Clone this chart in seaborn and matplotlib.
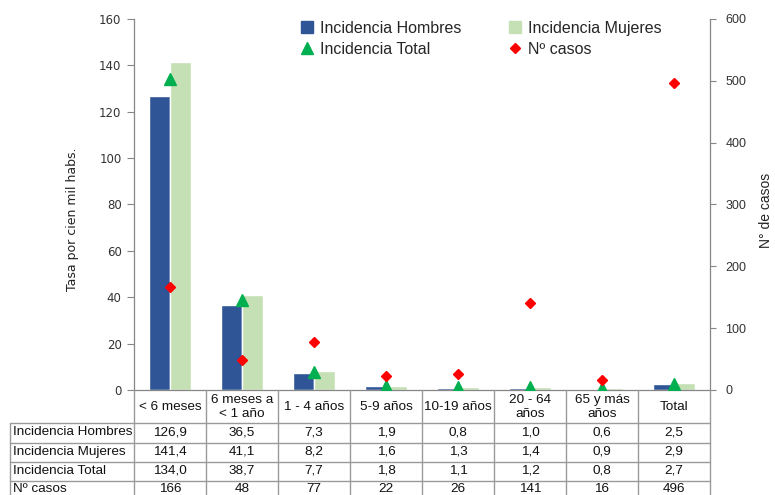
import numpy as np
import pandas as pd
import matplotlib
matplotlib.use("Agg")
import matplotlib.pyplot as plt
import seaborn as sns
from matplotlib.lines import Line2D

# Age groups (table header), series values and axis ticks
categories = ["< 6 meses", "6 meses a\n< 1 año", "1 - 4 años", "5-9 años",
              "10-19 años", "20 - 64\naños", "65 y más\naños", "Total"]
inc_hombres = [126.9, 36.5, 7.3, 1.9, 0.8, 1.0, 0.6, 2.5]
inc_mujeres = [141.4, 41.1, 8.2, 1.6, 1.3, 1.4, 0.9, 2.9]
inc_total = [134.0, 38.7, 7.7, 1.8, 1.1, 1.2, 0.8, 2.7]
n_casos = [166, 48, 77, 22, 26, 141, 16, 496]
series_names = ["Incidencia Hombres", "Incidencia Mujeres", "Incidencia Total", "Nº casos"]
left_ticks = [0, 20, 40, 60, 80, 100, 120, 140, 160]
right_ticks = [0, 100, 200, 300, 400, 500, 600]

c_h, c_m, c_t, c_c = "#2F5597", "#C5E0B4", "#00B050", "#FF0000"
grid_c = "#9A9A9A"
axis_c = "#868686"

sns.set_theme(style="white")
plt.rcParams["font.family"] = ["DejaVu Sans"]

W, H = 775, 495
fig = plt.figure(figsize=(W / 100, H / 100), dpi=100)
L, R, T, B = 134, 710, 19, 390
ax = fig.add_axes([L / W, 1 - B / H, (R - L) / W, (B - T) / H])

n = len(categories)
df = pd.DataFrame({
    "grupo": categories * 2,
    "tasa": inc_hombres + inc_mujeres,
    "serie": [series_names[0]] * n + [series_names[1]] * n,
})
sns.barplot(data=df, x="grupo", y="tasa", hue="serie", palette=[c_h, c_m],
            width=0.57, gap=0, saturation=1, errorbar=None, legend=False, ax=ax)
pos = np.arange(n)
ax.plot(pos, inc_total, linestyle="none", marker="^", markersize=9,
        color=c_t, zorder=5)

ax.set_xlim(-0.5, n - 0.5)
ax.set_ylim(0, 160)
ax.set_yticks(left_ticks)
ax.set_xticks(pos)
ax.set_xticklabels([])
ax.set_xlabel("")
ax.tick_params(axis="x", length=0)
ax.tick_params(axis="y", length=5, width=0.8, color=axis_c, direction="out",
               labelsize=8.5, labelcolor="#333333", pad=4, left=True)
ax.set_ylabel("Tasa por cien mil habs.", fontsize=9, color="#222222")
ax.yaxis.set_label_coords(-0.095, 0.46)
for s in ["top", "right"]:
    ax.spines[s].set_visible(False)
for s in ["left", "bottom"]:
    ax.spines[s].set_color(axis_c)
    ax.spines[s].set_linewidth(0.9)

ax2 = ax.twinx()
ax2.plot(pos, n_casos, linestyle="none", marker="D", markersize=5,
         color=c_c, zorder=6)
ax2.set_ylim(0, 600)
ax2.set_yticks(right_ticks)
ax2.tick_params(axis="y", length=4, width=0.8, color=axis_c, direction="out",
                labelsize=9, labelcolor="#333333", pad=7, right=True)
for lab in ax2.get_yticklabels():
    lab.set_family(["Liberation Sans", "DejaVu Sans"])
ax2.set_ylabel("N° de casos", fontsize=10, color="#222222",
               family=["Liberation Sans", "DejaVu Sans"])
ax2.yaxis.set_label_coords(1.085, 0.485)
for s in ["top", "left", "bottom"]:
    ax2.spines[s].set_visible(False)
ax2.spines["right"].set_color(axis_c)
ax2.spines["right"].set_linewidth(0.9)
ax2.grid(False)
ax.grid(False)

# Legend
handles = [
    Line2D([], [], linestyle="none", marker="s", markersize=8, color=c_h),
    Line2D([], [], linestyle="none", marker="^", markersize=8, color=c_t),
    Line2D([], [], linestyle="none", marker="s", markersize=8, color=c_m),
    Line2D([], [], linestyle="none", marker="D", markersize=5, color=c_c),
]
labels = [series_names[0], series_names[2], series_names[1], series_names[3]]
fig.legend(handles, labels, ncol=2, loc="upper left",
           bbox_to_anchor=(301 / W, 1 - 21 / H), frameon=False,
           handlelength=0.8, handletextpad=0.4, columnspacing=2.95,
           labelspacing=0.35, borderpad=0, borderaxespad=0,
           prop={"family": ["Liberation Sans", "DejaVu Sans"], "size": 11.5},
           labelcolor="#262626")

# Data table under the plot, drawn in pixel coordinates
tab = fig.add_axes([0, 0, 1, 1], zorder=10)
tab.set_xlim(0, W)
tab.set_ylim(H, 0)
tab.axis("off")
tab.patch.set_alpha(0)

xs = L + (R - L) * np.arange(n + 1) / n
row_lines = [423, 442.5, 461.7, 481, 500]
tfont = dict(family=["Liberation Sans", "DejaVu Sans"], size=9.7,
             color="#111111")

for x in xs:
    tab.plot([x, x], [B, row_lines[-1]], color=grid_c, lw=1, clip_on=False)
tab.plot([10, 10], [row_lines[0], row_lines[-1]], color=grid_c, lw=1)
for y in row_lines:
    tab.plot([10, xs[-1]], [y, y], color=grid_c, lw=1)

centers = (xs[:-1] + xs[1:]) / 2
for cx, cat in zip(centers, categories):
    tab.text(cx, (B + row_lines[0]) / 2 + 0.5, cat, ha="center", va="center",
             linespacing=1.25, **tfont)

def fmt(v):
    return f"{v:.1f}".replace(".", ",")

rows = [
    (series_names[0], [fmt(v) for v in inc_hombres]),
    (series_names[1], [fmt(v) for v in inc_mujeres]),
    (series_names[2], [fmt(v) for v in inc_total]),
    (series_names[3], [str(v) for v in n_casos]),
]
for i, (name, vals) in enumerate(rows):
    yc = (row_lines[i] + row_lines[i + 1]) / 2 - 0.5
    if i == len(rows) - 1:
        yc = 489.5
    tab.text(13, yc, name, ha="left", va="center", **tfont)
    for cx, v in zip(centers, vals):
        tab.text(cx, yc, v, ha="center", va="center", **tfont)

fig.savefig("out.png", dpi=100)
